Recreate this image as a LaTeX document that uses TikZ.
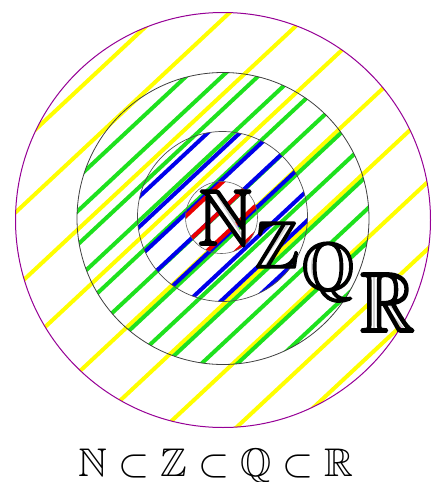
\documentclass[tikz,border=0pt]{standalone}
\usepackage{amssymb}
\definecolor{hyellow}{RGB}{255,255,0}
\definecolor{hgreen}{RGB}{30,225,30}
\definecolor{hblue}{RGB}{0,0,235}
\definecolor{hred}{RGB}{235,0,0}
\definecolor{hpurple}{RGB}{150,0,150}
\newcommand{\heavyglyph}[1]{\special{pdf:literal direct 2 Tr 0.22 w}#1\special{pdf:literal direct 0 Tr}}
\tikzset{
  hatchline/.style={line width=4pt, line cap=butt},
  bigletter/.style={inner sep=0pt, anchor=base},
  bandfill/.style={fill=black!18},
  bandlight/.style={draw=white, line cap=butt},
}
\begin{document}
\begin{tikzpicture}[x=1pt,y=-1pt]
\useasboundingbox[fill=white] (0,0) rectangle (432,482);
\def\ux{0.731}\def\uy{0.682}
% yellow hatching (R)
\begin{scope}
\clip (223,220) circle (207.5pt);
\foreach \off in {-192,-145,-90,-41,15,64,114,163,201}{
  \draw[hatchline, hyellow] ({222+\off*\uy-260*\ux},{218+\off*\ux+260*\uy}) -- ({222+\off*\uy+260*\ux},{218+\off*\ux-260*\uy});
}
\end{scope}
% green hatching (Q)
\begin{scope}
\clip (223,218.5) circle (146pt);
\foreach \off in {-128,-103.5,-79,-54.5,-30,-5.5,19,43.5,68,92.5,117,141.5}{
  \draw[hatchline, hgreen] ({222+\off*\uy-200*\ux},{218+\off*\ux+200*\uy}) -- ({222+\off*\uy+200*\ux},{218+\off*\ux-200*\uy});
}
\end{scope}
% blue hatching (Z)
\begin{scope}
\clip (222.5,216.5) circle (85pt);
\foreach \off in {-72,-50,-28,-6,16,38,60,82}{
  \draw[hatchline, hblue] ({222+\off*\uy-120*\ux},{218+\off*\ux+120*\uy}) -- ({222+\off*\uy+120*\ux},{218+\off*\ux-120*\uy});
}
\end{scope}
% red hatching (N)
\begin{scope}
\clip (221.5,217.5) circle (36pt);
\foreach \off in {-26,-6,14,34}{
  \draw[hatchline, hred] ({222+\off*\uy-60*\ux},{218+\off*\ux+60*\uy}) -- ({222+\off*\uy+60*\ux},{218+\off*\ux-60*\uy});
}
\end{scope}
% circle outlines
\draw[hpurple, line width=1pt] (223,220) circle (207.5pt);
\draw[black!75, line width=0.8pt] (223,218.5) circle (146pt);
\draw[black!70, line width=0.7pt] (222.5,216.5) circle (85pt);
\draw[black!60, line width=0.6pt] (221.5,217.5) circle (36pt);
% shaded bodies under the big letters
\begin{scope}[shift={(225,245)}, x=7.5pt, y=8pt]
  \fill[bandfill] (-2.8,6.65) -- (-0.95,6.65) -- (2.5,1.0) -- (2.4,-0.05) -- (2.05,0.05) -- cycle;
  \draw[bandlight, line width=5pt] (-1.75,6.5) -- (2.1,0.6);
\end{scope}
\begin{scope}[shift={(277,268)}, x=6.7pt, y=6.7pt]
  \fill[bandfill] (1.55,6.6) -- (2.7,6.6) -- (-1.55,0.2) -- (-2.9,0.2) -- cycle;
  \draw[bandlight, line width=3pt] (2.1,6.5) -- (-2.2,0.3);
\end{scope}
\begin{scope}[shift={(328,290)}, x=6.8pt, y=6.8pt]
  \fill[white] (0.05,3.3) ellipse [x radius=3.45, y radius=3.5];
  \fill[bandfill] (-0.4,6.85) .. controls (-2.6,6.8) and (-3.4,5.2) .. (-3.4,3.4)
     .. controls (-3.4,1.3) and (-2.2,-0.2) .. (-0.4,-0.2)
     .. controls (-1.5,0.2) and (-2.1,1.6) .. (-2.1,3.4)
     .. controls (-2.1,5.2) and (-1.5,6.5) .. (-0.4,6.85);
  \draw[bandlight, line width=3pt] (-0.9,6.4) .. controls (-2.4,5.8) and (-2.75,4.6) .. (-2.75,3.4)
     .. controls (-2.75,2.2) and (-2.4,0.9) .. (-0.9,0.3);
\end{scope}
\begin{scope}[shift={(387.5,332)}, x=7.6pt, y=8.6pt]
  \fill[white] (-1.7,6.75) -- (1.0,6.75) .. controls (2.2,6.75) and (2.75,6.0) .. (2.75,5.0)
     .. controls (2.75,4.0) and (2.2,3.25) .. (1.0,3.25) -- (-1.7,3.25) -- cycle;
  \fill[bandfill] (-2.7,0.2) rectangle (-1.7,6.7);
  \draw[bandlight, line width=3.5pt] (-2.2,0.4) -- (-2.2,6.5);
  \fill[bandfill] (-0.9,3.25) -- (0.3,3.4) -- (3.3,0.2) -- (2.1,0.2) -- cycle;
  \draw[bandlight, line width=3pt] (-0.2,3.2) -- (2.6,0.35);
\end{scope}
% big letters
\node[bigletter, xscale=7.5, yscale=8] (bigN) at (225,245) {\heavyglyph{$\mathbb{N}$}};
\node[bigletter, scale=6.7] (bigZ) at (277,268) {\heavyglyph{$\mathbb{Z}$}};
\node[bigletter, scale=6.8] (bigQ) at (328,290) {\heavyglyph{$\mathbb{Q}$}};
\node[bigletter, xscale=7.6, yscale=8.6] (bigR) at (387.5,332) {\heavyglyph{$\mathbb{R}$}};
% chain of inclusions
\node[bigletter, scale=4] (chain) at (216,476) {$\mathbb{N}\subset\mathbb{Z}\subset\mathbb{Q}\subset\mathbb{R}$};
\end{tikzpicture}
\end{document}
